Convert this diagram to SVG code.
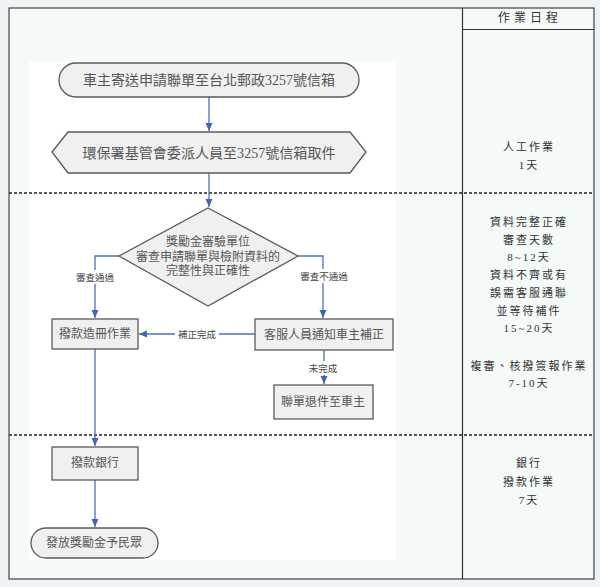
<svg xmlns="http://www.w3.org/2000/svg" width="600" height="587" viewBox="0 0 600 587">
<defs>
<style>
.nd{fill:#f0f0f0;stroke:#5a5a5a;stroke-width:1.3}
.tx{font-family:"Liberation Serif","Noto Sans CJK TC",serif;fill:#555;text-anchor:middle;dominant-baseline:central}
.lb{font-family:"Noto Sans CJK TC",sans-serif;font-size:9.5px;fill:#444;text-anchor:middle;dominant-baseline:central}
.rc{font-family:"Liberation Serif","Noto Sans CJK TC",serif;font-size:11px;fill:#333;text-anchor:middle;dominant-baseline:central;letter-spacing:2px}
.cn{fill:none;stroke:#4a72b8;stroke-width:1.3}
.ds{stroke:#222;stroke-width:1.4;stroke-dasharray:3 2}
</style>
<marker id="ah" markerUnits="userSpaceOnUse" markerWidth="8" markerHeight="8" viewBox="0 0 8 8" refX="8" refY="4" orient="auto">
<path d="M0,0.5 L8,4 L0,7.5 Z" fill="#3f68b0"/>
</marker>
</defs>
<rect x="0" y="0" width="600" height="587" fill="#eef3f6"/>
<rect x="9" y="8" width="585" height="571" fill="#f4faf7" stroke="#444" stroke-width="1.2"/>
<rect x="29" y="61" width="367" height="499" fill="#ffffff"/>
<line x1="462.5" y1="8" x2="462.5" y2="579" stroke="#333" stroke-width="1.2"/>
<line x1="462.5" y1="29.5" x2="594" y2="29.5" stroke="#333" stroke-width="1.2"/>
<line class="ds" x1="9" y1="193" x2="594" y2="193"/>
<line class="ds" x1="9" y1="435" x2="594" y2="435"/>

<g id="schedule">
<text class="rc" x="530" y="18" style="font-size:12px;letter-spacing:4px">作業日程</text>
<text class="rc" x="529" y="147">人工作業</text>
<text class="rc" x="529" y="165">1天</text>
<text class="rc" x="529" y="222">資料完整正確</text>
<text class="rc" x="529" y="240">審查天數</text>
<text class="rc" x="529" y="257">8~12天</text>
<text class="rc" x="529" y="275">資料不齊或有</text>
<text class="rc" x="529" y="293">誤需客服通聯</text>
<text class="rc" x="529" y="311">並等待補件</text>
<text class="rc" x="529" y="328">15~20天</text>
<text class="rc" x="529" y="366">複審、核撥簽報作業</text>
<text class="rc" x="529" y="383">7-10天</text>
<text class="rc" x="529" y="463">銀行</text>
<text class="rc" x="529" y="482">撥款作業</text>
<text class="rc" x="529" y="500">7天</text>
</g>

<g id="connectors">
<path class="cn" d="M209,97 V131" marker-end="url(#ah)"/>
<path class="cn" d="M209,173 V207" marker-end="url(#ah)"/>
<path class="cn" d="M119,256 H95 V318" marker-end="url(#ah)"/>
<path class="cn" d="M298,256 H323 V318" marker-end="url(#ah)"/>
<path class="cn" d="M255,334 H139" marker-end="url(#ah)"/>
<path class="cn" d="M324,350 V384" marker-end="url(#ah)"/>
<path class="cn" d="M95,349 V446" marker-end="url(#ah)"/>
<path class="cn" d="M95,480 V527" marker-end="url(#ah)"/>
<rect x="73" y="270" width="44" height="14" fill="#fff"/>
<text class="lb" x="95" y="277">審查通過</text>
<rect x="298" y="269" width="52" height="14" fill="#fff"/>
<text class="lb" x="324" y="276">審查不通過</text>
<rect x="175" y="327" width="44" height="14" fill="#fff"/>
<text class="lb" x="197" y="334">補正完成</text>
<rect x="308" y="361" width="32" height="14" fill="#fff"/>
<text class="lb" x="323" y="368">未完成</text>
</g>

<g id="n1">
<rect class="nd" x="59" y="63" width="300" height="34" rx="17"/>
<text class="tx" x="209" y="80" style="font-size:14px" textLength="252" lengthAdjust="spacingAndGlyphs">車主寄送申請聯單至台北郵政3257號信箱</text>
</g>
<g id="n2">
<polygon class="nd" points="52,152 68,132 350,132 366,152 350,173 68,173"/>
<text class="tx" x="209" y="153" style="font-size:14px" textLength="253" lengthAdjust="spacingAndGlyphs">環保署基管會委派人員至3257號信箱取件</text>
</g>
<g id="n3">
<polygon class="nd" points="208,208 298,256 208,306 119,256"/>
<text class="tx" x="208" y="242" style="font-size:12px">獎勵金審驗單位</text>
<text class="tx" x="208" y="257" style="font-size:12px">審查申請聯單與檢附資料的</text>
<text class="tx" x="208" y="271" style="font-size:12px">完整性與正確性</text>
</g>
<g id="n4">
<rect class="nd" x="52" y="319" width="86" height="30"/>
<text class="tx" x="95" y="334" style="font-size:12px">撥款造冊作業</text>
</g>
<g id="n5">
<rect class="nd" x="255" y="319" width="138" height="31"/>
<text class="tx" x="324" y="335" style="font-size:12px">客服人員通知車主補正</text>
</g>
<g id="n6">
<rect class="nd" x="274" y="385" width="99" height="34"/>
<text class="tx" x="323" y="402" style="font-size:12px">聯單退件至車主</text>
</g>
<g id="n7">
<rect class="nd" x="52" y="447" width="86" height="33"/>
<text class="tx" x="95" y="463" style="font-size:12px">撥款銀行</text>
</g>
<g id="n8">
<rect class="nd" x="31" y="528" width="127" height="30" rx="15"/>
<text class="tx" x="94" y="543" style="font-size:12px">發放獎勵金予民眾</text>
</g>
</svg>
